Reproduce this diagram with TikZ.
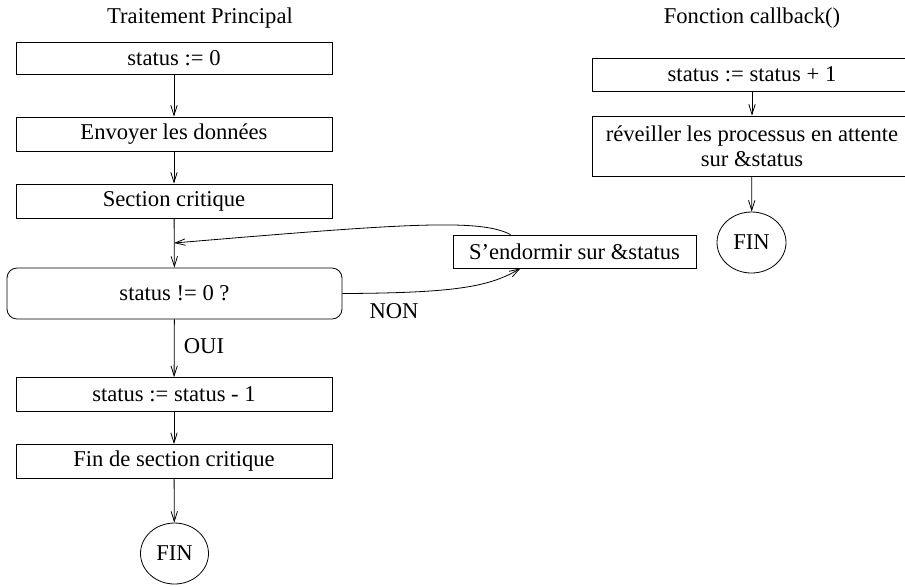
\documentclass[tikz,border=0pt]{standalone}
\usepackage{fontspec}
\setmainfont{Liberation Serif}
\usetikzlibrary{positioning,shapes.geometric,arrows.meta}

\begin{document}
\begin{tikzpicture}[x=0.5pt,y=-0.5pt,
    every node/.style={font=\fontsize{11.3}{12.5}\selectfont},
    boite/.style={draw,minimum width=158pt,minimum height=17pt,inner sep=0pt},
    boiteB/.style={draw,minimum width=160pt,minimum height=16.5pt,inner sep=0pt,align=center},
    fin/.style={draw,ellipse,minimum width=34pt,minimum height=30.5pt,inner sep=0pt},
    fleche/.style={-{Straight Barb[length=5pt,width=3.2pt]}}]
    \clip (0,0) rectangle (905,586);

    % traitement principal
    \node (titreA) at (200,18) {Traitement Principal};
    \node[boite,minimum height=16pt] (init) at (174,58) {status := 0};
    \node[boite] (envoi) at (174,134) {Envoyer les données};
    \node[boite] (crit) at (174,201) {Section critique};
    \node[draw,rounded corners=5pt,minimum width=167.5pt,minimum height=25.5pt] (test) at (174.5,293.5) {status != 0 ?};
    \node[boite] (decr) at (174,394.5) {status := status - 1};
    \node[boite] (finsec) at (174,461.5) {Fin de section critique};
    \node[fin] (finA) at (174.5,553.5) {FIN};
    \coordinate (retour) at (174,243);

    \node[draw,minimum width=121.5pt,minimum height=16.5pt] (dort) at (574.5,251.5) {S’endormir sur \&status};
    \node (oui) at (204,346) {OUI};
    \node (non) at (394,311) {NON};

    \draw[fleche] (init) -- (envoi);
    \draw[fleche] (envoi) -- (crit);
    \draw[fleche] (crit) -- (test);
    \draw[fleche] (test) -- (decr);
    \draw[fleche] (decr) -- (finsec);
    \draw[fleche] (finsec) -- (finA);
    \draw[fleche] (test.east) .. controls (460,293) and (490,286) .. ([xshift=-27pt]dort.south);
    \draw[fleche] ([xshift=-32pt]dort.north) .. controls (480,218) and (400,224) .. (retour);

    % fonction callback
    \node (titreB) at (752,18) {Fonction callback()};
    \node[boiteB] (incr) at (752,74.5) {status := status + 1};
    \node[boiteB,minimum height=30pt] (reveil) at (752,146) {réveiller les processus en attente\\sur \&status};
    \node[fin,minimum width=34.5pt] (finB) at (751.5,242.5) {FIN};

    \draw[fleche] (incr) -- (reveil);
    \draw[fleche] (reveil) -- (finB);
\end{tikzpicture}
\end{document}
